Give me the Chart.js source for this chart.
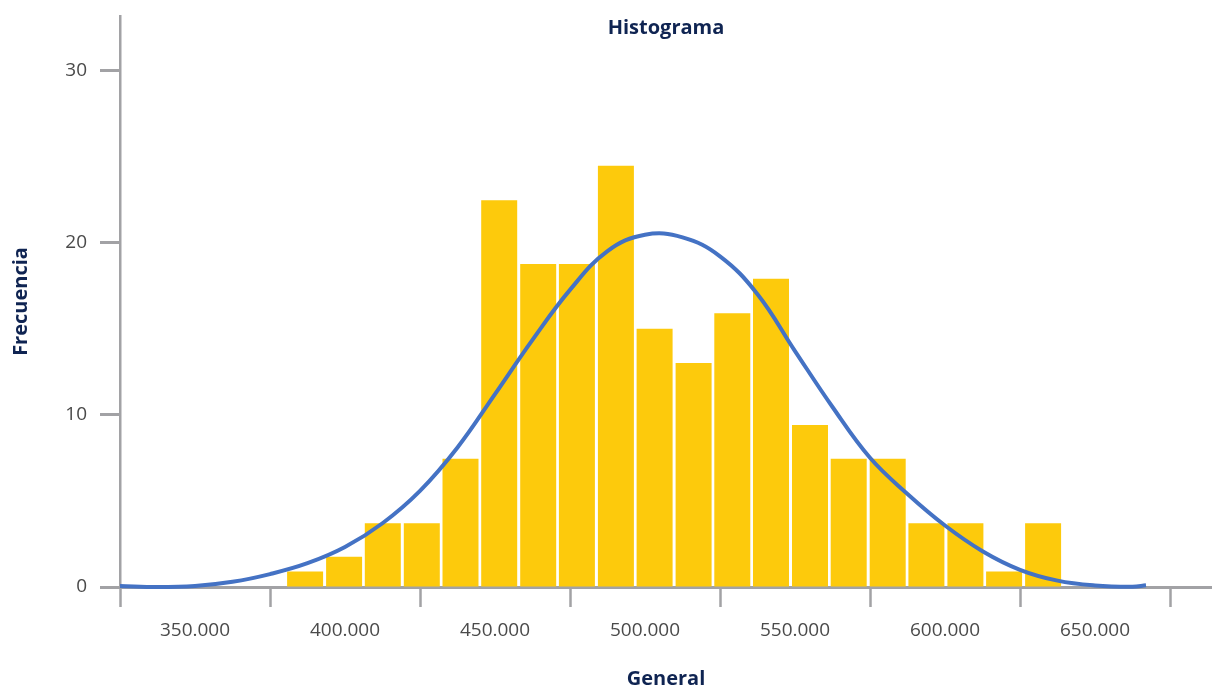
<!DOCTYPE html>
<html>
<head>
<meta charset="utf-8">
<title>Histograma</title>
<script src="https://cdn.jsdelivr.net/npm/chart.js@4.4.1/dist/chart.umd.min.js"></script>
<style>
  body { margin: 0; background: #fff; }
  .wrap { width: 1212px; height: 689px; position: relative; }
</style>
</head>
<body>
<div class="wrap"><canvas id="histo"></canvas></div>
<script>
// bin centres (thousands) and frequencies
var binCenters = [386.7, 399.7, 412.6, 425.6, 438.5, 451.4, 464.4, 477.3, 490.3, 503.2,
                  516.2, 529.1, 542.0, 555.0, 567.9, 580.9, 593.8, 606.8, 619.7, 632.7];
var frecuencias = [0.9, 1.75, 3.7, 3.7, 7.45, 22.45, 18.75, 18.75, 24.45, 15,
                   13, 15.9, 17.9, 9.4, 7.45, 7.45, 3.7, 3.7, 0.9, 3.7];

// normal curve, points
var curvaX = [325, 337.5, 350, 362.5, 375, 387.5, 400, 412.5, 425, 437.5, 450, 462.5,
              475, 487.5, 500, 512.5, 525, 537.5, 550, 562.5, 575, 587.5, 600, 612.5,
              625, 637.5, 650, 662.5, 667];
var curvaY = [0.06, 0, 0.06, 0.3, 0.75, 1.38, 2.32, 3.7, 5.58, 8.1, 11.2, 14.35,
              17.25, 19.5, 20.45, 20.3, 19.2, 17.0, 13.7, 10.45, 7.5, 5.4, 3.57, 2.08,
              1.0, 0.37, 0.09, 0.02, 0.1];

var xLabelValues = [350, 400, 450, 500, 550, 600, 650];
var xLabels = ['350.000', '400.000', '450.000', '500.000', '550.000', '600.000', '650.000'];
var xBounds = [325, 375, 425, 475, 525, 575, 625, 675];
var yTicks = [0, 10, 20, 30];

var axisGray = '#a2a2a5';
var navy = '#0f2452';

var barData = binCenters.map(function (c, i) { return { x: c, y: frecuencias[i] }; });
var curveData = curvaX.map(function (c, i) { return { x: c, y: curvaY[i] }; });

var titlePlugin = {
  id: 'topTitle',
  afterDraw: function (chart) {
    var ctx = chart.ctx, a = chart.chartArea;
    ctx.save();
    ctx.font = 'bold 20px "Open Sans"';
    ctx.fillStyle = navy;
    ctx.textAlign = 'center';
    ctx.textBaseline = 'middle';
    ctx.fillText('Histograma', (a.left + a.right) / 2, 28);
    ctx.restore();
  }
};

var config = {
  type: 'bar',
  data: {
    datasets: [{
      type: 'line',
      label: 'Normal',
      data: curveData,
      borderColor: '#4472c4',
      borderWidth: 4,
      pointRadius: 0,
      tension: 0.4,
      fill: false,
      clip: false,
      order: 1
    }, {
      type: 'bar',
      label: 'Frecuencia',
      data: barData,
      backgroundColor: '#fdca0c',
      borderWidth: 0,
      barPercentage: 0.93,
      categoryPercentage: 1,
      order: 2
    }]
  },
  options: {
    responsive: true,
    maintainAspectRatio: false,
    animation: false,
    layout: { padding: { top: 16, left: 0, right: 0, bottom: 0 } },
    plugins: {
      legend: { display: false },
      tooltip: { enabled: false }
    },
    scales: {
      x: {
        type: 'linear',
        min: 325,
        max: 689,
        offset: false,
        afterBuildTicks: function (scale) {
          var t = xBounds.concat(xLabelValues).sort(function (a, b) { return a - b; });
          scale.ticks = t.map(function (v) { return { value: v }; });
        },
        afterFit: function (scale) {
          scale.height = 102;
          scale.paddingLeft = 0;
          scale.paddingRight = 0;
        },
        ticks: {
          autoSkip: false,
          maxRotation: 0,
          padding: 12,
          color: '#4a4a4a',
          font: { family: '"Open Sans"', size: 19 },
          callback: function (v) {
            var i = xLabelValues.indexOf(v);
            return i >= 0 ? xLabels[i] : '';
          }
        },
        grid: {
          drawOnChartArea: false,
          offset: false,
          tickLength: 20,
          tickWidth: 2.5,
          tickColor: function (ctx) {
            return ctx.tick && xBounds.indexOf(ctx.tick.value) >= 0 ? axisGray : 'rgba(0,0,0,0)';
          }
        },
        border: { display: true, color: axisGray, width: 3 },
        title: {
          display: true,
          text: 'General',
          color: navy,
          font: { family: '"Open Sans"', size: 20, weight: 'bold', lineHeight: 1 },
          padding: { top: 0, bottom: 0 }
        }
      },
      y: {
        min: 0,
        max: 33.15,
        afterBuildTicks: function (scale) {
          scale.ticks = yTicks.map(function (v) { return { value: v }; });
        },
        afterFit: function (scale) {
          scale.width = 120;
          scale.paddingTop = 0;
          scale.paddingBottom = 0;
        },
        ticks: {
          padding: 13,
          color: '#4a4a4a',
          font: { family: '"Open Sans"', size: 19 }
        },
        grid: {
          drawOnChartArea: false,
          tickLength: 20,
          tickWidth: 3,
          tickColor: axisGray
        },
        border: { display: true, color: axisGray, width: 2.5 },
        title: {
          display: true,
          text: 'Frecuencia',
          color: navy,
          font: { family: '"Open Sans"', size: 20, weight: 'bold', lineHeight: 1 },
          padding: { top: 11, bottom: 0 }
        }
      }
    }
  },
  plugins: [titlePlugin]
};

var myChart = new Chart(document.getElementById('histo'), config);
</script>
</body>
</html>
